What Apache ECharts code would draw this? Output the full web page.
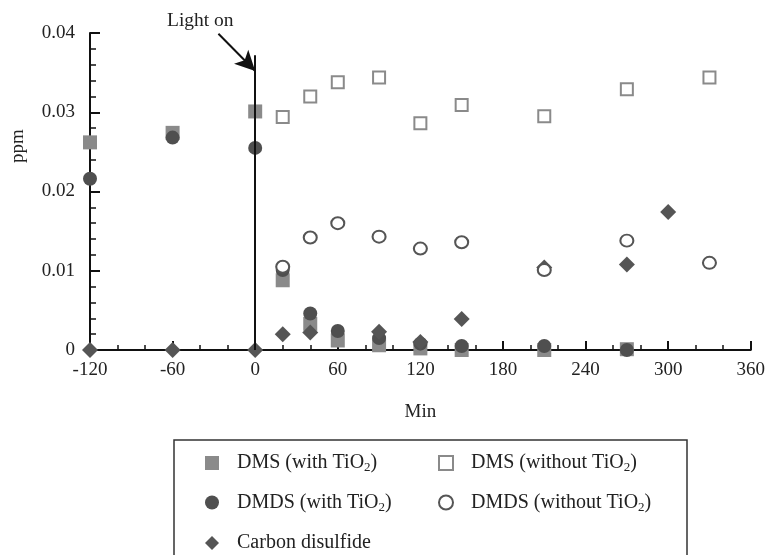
<!DOCTYPE html>
<html>
<head>
<meta charset="utf-8">
<script src="https://cdn.jsdelivr.net/npm/echarts@6/dist/echarts.min.js"></script>
<style>
html, body { margin: 0; padding: 0; background: #fff; }
#chart { width: 768px; height: 555px; }
</style>
</head>
<body>
<div id="chart"></div>
<script>
// data (min, ppm)
var withTimes = [-120, -60, 0, 20, 40, 60, 90, 120, 150, 210, 270];
var dmsWith = [0.0262, 0.0274, 0.0301, 0.0088, 0.0033, 0.0012, 0.0006, 0.0002, 0.0, 0.0, 0.0001];
var dmdsWith = [0.0216, 0.0268, 0.0255, 0.0101, 0.0046, 0.0024, 0.0015, 0.0008, 0.0005, 0.0005, 0.0];

var cs2Times = [-120, -60, 0, 20, 40, 90, 120, 150, 210, 270, 300];
var cs2 = [0, 0, 0, 0.0020, 0.0022, 0.0023, 0.0010, 0.0039, 0.0104, 0.0108, 0.0174];

var withoutTimes = [20, 40, 60, 90, 120, 150, 210, 270, 330];
var dmsWithout = [0.0294, 0.0320, 0.0338, 0.0344, 0.0286, 0.0309, 0.0295, 0.0329, 0.0344];
var dmdsWithout = [0.0105, 0.0142, 0.0160, 0.0143, 0.0128, 0.0136, 0.0101, 0.0138, 0.0110];

var names = ['DMS (with TiO2)', 'DMDS (with TiO2)', 'Carbon disulfide', 'DMS (without TiO2)', 'DMDS (without TiO2)'];

function pairs(xs, ys) {
    var out = [];
    for (var i = 0; i < xs.length; i++) out.push([xs[i], ys[i]]);
    return out;
}

var serif = '"Liberation Serif", "DejaVu Serif", serif';

var chart = echarts.init(document.getElementById('chart'));

var legendText = {
    fontFamily: serif,
    fontSize: 20,
    color: '#222',
    padding: [0, 0, 0, 13],
    rich: {
        sub: { fontFamily: serif, fontSize: 13, color: '#222', padding: [10, 0, 0, 0] }
    }
};
function legendFmt(name) {
    return name.replace('TiO2', 'TiO{sub|2}');
}
// one legend block per column/row group so nothing wraps at the bottom edge
function legendBlock(left, top, items) {
    return {
        orient: 'vertical',
        left: left, top: top,
        itemWidth: 14, itemHeight: 14, itemGap: 18,
        data: items,
        textStyle: legendText,
        formatter: legendFmt
    };
}

option = {
    animation: false,
    grid: { left: 90, right: 14, top: 33, bottom: 205 },
    legend: [
        legendBlock(200, 448, [names[0], names[1]]),
        legendBlock(433, 448, [names[3], names[4]]),
        legendBlock(200, 528, [names[2]])
    ],
    xAxis: {
        type: 'value',
        min: -120, max: 360, interval: 60,
        name: 'Min',
        nameLocation: 'middle',
        nameGap: 53,
        nameTextStyle: { fontFamily: serif, fontSize: 19, color: '#222' },
        axisLine: { onZero: false, lineStyle: { color: '#111', width: 2 } },
        axisTick: { inside: true, length: 9, lineStyle: { color: '#111', width: 2 } },
        minorTick: { show: true, splitNumber: 3, length: 5, lineStyle: { color: '#111', width: 1.5 } },
        axisLabel: { fontFamily: serif, fontSize: 19, color: '#222', margin: 11 },
        splitLine: { show: false }
    },
    yAxis: {
        type: 'value',
        min: 0, max: 0.04, interval: 0.01,
        axisLine: { show: true, onZero: false, lineStyle: { color: '#111', width: 2 } },
        axisTick: { inside: true, length: 10, lineStyle: { color: '#111', width: 2 } },
        minorTick: { show: true, splitNumber: 5, length: 6, lineStyle: { color: '#111', width: 1.5 } },
        axisLabel: { fontFamily: serif, fontSize: 19, color: '#222', margin: 15 },
        splitLine: { show: false }
    },
    graphic: [
        {
            type: 'text',
            left: 167, top: 11,
            style: { text: 'Light on', font: '19.5px ' + serif, fill: '#222' }
        },
        {
            type: 'text',
            x: 18, y: 146,
            rotation: Math.PI / 2,
            style: { text: 'ppm', font: '19px ' + serif, fill: '#222', align: 'center', verticalAlign: 'middle' }
        },
        {
            type: 'rect',
            shape: { x: 174, y: 440, width: 513, height: 140 },
            style: { fill: 'none', stroke: '#333', lineWidth: 1.5 }
        }
    ],
    series: [
        {
            name: names[0],
            type: 'scatter',
            symbol: 'rect',
            symbolSize: 14,
            clip: false,
            itemStyle: { color: '#8a8a8a', opacity: 1 },
            data: pairs(withTimes, dmsWith),
            markLine: {
                silent: true,
                symbol: ['none', 'none'],
                label: { show: false },
                lineStyle: { color: '#111', width: 2, type: 'solid' },
                data: [
                    [{ coord: [0, 0] }, { coord: [0, 0.0372] }]
                ]
            }
        },
        {
            name: names[1],
            type: 'scatter',
            symbol: 'circle',
            symbolSize: 14,
            clip: false,
            itemStyle: { color: '#4f4f4f', opacity: 1 },
            data: pairs(withTimes, dmdsWith)
        },
        {
            name: names[2],
            type: 'scatter',
            symbol: 'diamond',
            symbolSize: [16, 16],
            clip: false,
            itemStyle: { color: '#555555', opacity: 1 },
            data: pairs(cs2Times, cs2),
            markLine: {
                silent: true,
                symbol: ['none', 'arrow'],
                symbolSize: [15, 20],
                label: { show: false },
                lineStyle: { color: '#111', width: 2, type: 'solid' },
                data: [
                    [{ coord: [-26.7, 0.0399] }, { coord: [0, 0.0352] }]
                ]
            }
        },
        {
            name: names[3],
            type: 'scatter',
            symbol: 'emptyRect',
            symbolSize: 12,
            clip: false,
            itemStyle: { color: '#8a8a8a', borderWidth: 2, opacity: 1 },
            data: pairs(withoutTimes, dmsWithout)
        },
        {
            name: names[4],
            type: 'scatter',
            symbol: 'emptyCircle',
            symbolSize: [13, 12],
            clip: false,
            itemStyle: { color: '#555555', borderWidth: 1.6, opacity: 1 },
            data: pairs(withoutTimes, dmdsWithout)
        }
    ]
};

chart.setOption(option);
</script>
</body>
</html>
